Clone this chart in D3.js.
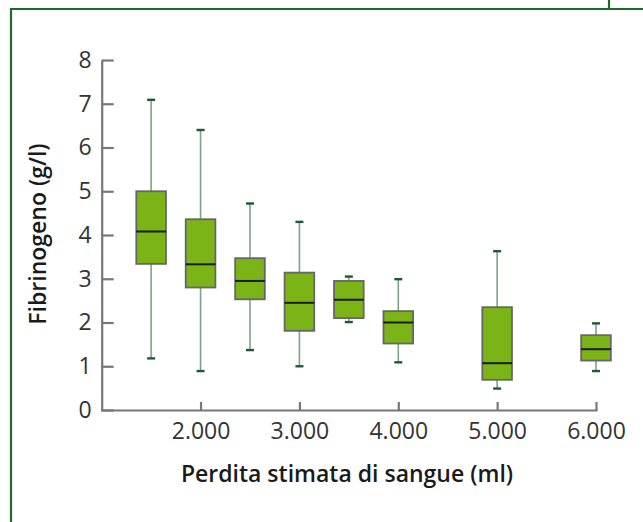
<!DOCTYPE html>
<html>
<head>
<meta charset="utf-8">
<script src="https://cdn.jsdelivr.net/npm/d3@7"></script>
<style>
  body { margin: 0; background: #fff; }
  svg { display: block; font-family: "Open Sans", sans-serif; }
</style>
</head>
<body>
<svg width="643" height="522"></svg>
<script>
const svg = d3.select("svg");

// DATA (ml of blood loss, fibrinogen g/l)
const bloodLoss = [1500, 2000, 2500, 3000, 3500, 4000, 5000, 6000];
const whiskerLow = [1.18, 0.89, 1.37, 1.0, 2.01, 1.09, 0.49, 0.89];
const q1 = [3.34, 2.8, 2.53, 1.81, 2.1, 1.52, 0.69, 1.13];
const median = [4.08, 3.33, 2.95, 2.45, 2.52, 2.0, 1.07, 1.39];
const q3 = [5.0, 4.36, 3.47, 3.14, 2.95, 2.26, 2.35, 1.71];
const whiskerHigh = [7.09, 6.4, 4.72, 4.3, 3.05, 2.99, 3.63, 1.98];
const xTicks = [2000, 3000, 4000, 5000, 6000];
const yTicks = [0, 1, 2, 3, 4, 5, 6, 7, 8];

const boxes = bloodLoss.map((x, i) => ({
  x, lo: whiskerLow[i], q1: q1[i], med: median[i], q3: q3[i], hi: whiskerHigh[i]
}));

// SCALES
const xScale = d3.scaleLinear().domain([1000, 6000]).range([101.7, 596]);
const yScale = d3.scaleLinear().domain([0, 8]).range([410, 60]);
const boxW = xScale(1300) - xScale(1000);
const capW = 8;

// frame
svg.append("path")
  .attr("d", "M11,522 V9 H643")
  .attr("fill", "none").attr("stroke", "#1c6a2c").attr("stroke-width", 2.2);
svg.append("line")
  .attr("x1", 609).attr("x2", 609).attr("y1", 0).attr("y2", 9)
  .attr("stroke", "#1c6a2c").attr("stroke-width", 2.2);

// axes
const yAxis = svg.append("g")
  .attr("transform", `translate(${xScale(1000)},0)`)
  .call(d3.axisLeft(yScale).tickValues(yTicks).tickFormat(d3.format("d"))
    .tickSize(-12).tickSizeOuter(0).tickPadding(10));

const xAxis = svg.append("g")
  .attr("transform", `translate(0,${yScale(0)})`)
  .call(d3.axisBottom(xScale).tickValues(xTicks)
    .tickFormat(d => d3.format(",")(d).replace(",", "."))
    .tickSize(-8).tickSizeOuter(0).tickPadding(13));

[yAxis, xAxis].forEach(a => {
  a.select(".domain").attr("stroke", "#777").attr("stroke-width", 2.2);
  a.selectAll(".tick line").attr("stroke", "#777").attr("stroke-width", 2.2);
  a.selectAll(".tick text").attr("fill", "#333").attr("font-size", 23)
    .attr("font-family", "'Open Sans', sans-serif");
});
xAxis.select(".domain").attr("stroke-linecap", "square");

// boxes
const g = svg.append("g");
const b = g.selectAll("g.box").data(boxes).join("g").attr("class", "box");

b.append("line")
  .attr("x1", d => xScale(d.x)).attr("x2", d => xScale(d.x))
  .attr("y1", d => yScale(d.hi)).attr("y2", d => yScale(d.lo))
  .attr("stroke", "#7fa38a").attr("stroke-width", 1.6);

b.selectAll("line.cap").data(d => [d.lo, d.hi].map(v => ({ x: d.x, v })))
  .join("line").attr("class", "cap")
  .attr("x1", d => xScale(d.x) - capW / 2).attr("x2", d => xScale(d.x) + capW / 2)
  .attr("y1", d => yScale(d.v)).attr("y2", d => yScale(d.v))
  .attr("stroke", "#1d5a32").attr("stroke-width", 2.4);

b.append("rect")
  .attr("x", d => xScale(d.x) - boxW / 2)
  .attr("width", boxW)
  .attr("y", d => yScale(d.q3))
  .attr("height", d => yScale(d.q1) - yScale(d.q3))
  .attr("fill", "#7bb417").attr("stroke", "#666").attr("stroke-width", 1.8);

b.append("line")
  .attr("x1", d => xScale(d.x) - boxW / 2).attr("x2", d => xScale(d.x) + boxW / 2)
  .attr("y1", d => yScale(d.med)).attr("y2", d => yScale(d.med))
  .attr("stroke", "#1a1a1a").attr("stroke-width", 2);

// axis titles
svg.append("text")
  .attr("x", 347).attr("y", 482)
  .attr("text-anchor", "middle")
  .attr("font-size", 23).attr("font-weight", 600).attr("fill", "#1a1a1a")
  .text("Perdita stimata di sangue (ml)");

svg.append("text")
  .attr("transform", "translate(46,234) rotate(-90)")
  .attr("text-anchor", "middle")
  .attr("font-size", 23).attr("font-weight", 600).attr("fill", "#1a1a1a")
  .text("Fibrinogeno (g/l)");
</script>
</body>
</html>
